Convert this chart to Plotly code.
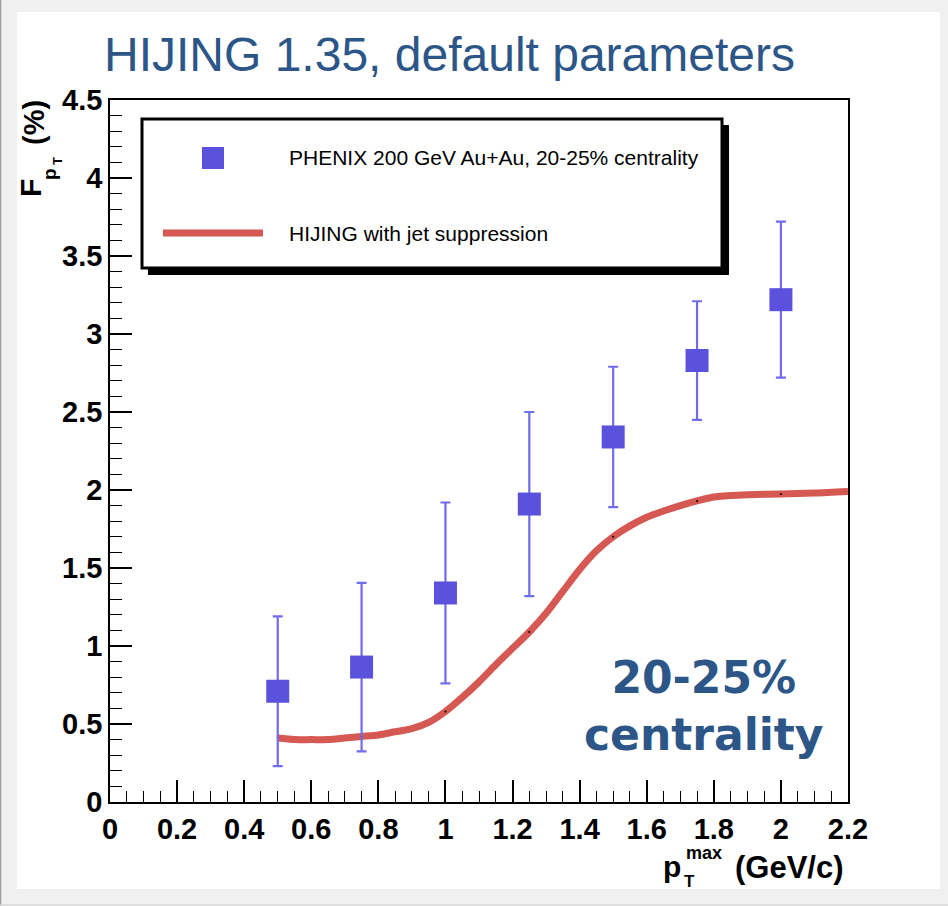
import plotly.graph_objects as go

# ---------------- data ----------------
data_x = [0.5, 0.75, 1.0, 1.25, 1.5, 1.75, 2.0]
data_y = [0.71, 0.865, 1.34, 1.91, 2.34, 2.83, 3.22]
data_err = [0.48, 0.54, 0.58, 0.59, 0.45, 0.38, 0.50]

curve_x = [0.5, 0.55, 0.6, 0.65, 0.7, 0.75, 0.8, 0.85, 0.9, 0.95, 1.0, 1.05, 1.1, 1.15,
           1.2, 1.25, 1.3, 1.35, 1.4, 1.45, 1.5, 1.55, 1.6, 1.65, 1.7, 1.75, 1.8, 1.85,
           1.9, 2.0, 2.1, 2.2]
curve_y = [0.41, 0.40, 0.40, 0.40, 0.41, 0.42, 0.43, 0.45, 0.47, 0.51, 0.58, 0.67, 0.77, 0.88,
           0.985, 1.09, 1.21, 1.35, 1.49, 1.61, 1.70, 1.77, 1.825, 1.865, 1.90, 1.93, 1.955, 1.965,
           1.97, 1.975, 1.98, 1.99]
dot_x = [0.5, 0.75, 1.0, 1.25, 1.5, 1.75, 2.0]

x_ticks = [0, 0.2, 0.4, 0.6, 0.8, 1, 1.2, 1.4, 1.6, 1.8, 2, 2.2]
y_ticks = [0, 0.5, 1, 1.5, 2, 2.5, 3, 3.5, 4, 4.5]

title_text = "HIJING 1.35, default parameters"
label_data = "PHENIX 200 GeV Au+Au, 20-25% centrality"
label_model = "HIJING with jet suppression"

# ---------------- layout geometry ----------------
W, H = 948, 906
L, R, T, B = 110, 848, 100, 802  # plot area in pixels


def px(x):
    return (x - L) / (R - L)


def py(y):
    return (B - y) / (B - T)


BLUE = "rgb(90,82,220)"
ERR = "rgb(112,108,236)"
RED = "rgb(214,88,82)"
TXT = "#2c5687"

fig = go.Figure()

fig.add_trace(go.Scatter(
    x=curve_x, y=curve_y, mode="lines",
    line=dict(color=RED, width=7, shape="spline", smoothing=0.8),
    showlegend=False, hoverinfo="skip"))

dot_y = [curve_y[curve_x.index(v)] for v in dot_x]
fig.add_trace(go.Scatter(
    x=dot_x, y=dot_y, mode="markers",
    marker=dict(color="black", size=2),
    showlegend=False, hoverinfo="skip"))

fig.add_trace(go.Scatter(
    x=data_x, y=data_y, mode="markers",
    marker=dict(symbol="square", size=23, color=BLUE, line=dict(width=0)),
    error_y=dict(type="data", array=data_err, visible=True, color=ERR, thickness=2.2, width=5),
    showlegend=False))

shapes = []
# outer white panel
shapes.append(dict(type="rect", xref="paper", yref="paper",
                   x0=px(17), x1=px(940), y0=py(889), y1=py(12),
                   fillcolor="white", line=dict(width=0), layer="below"))
# left dark edge & bottom line
shapes.append(dict(type="line", xref="paper", yref="paper",
                   x0=px(0.5), x1=px(0.5), y0=py(906), y1=py(0),
                   line=dict(color="#9a9a9a", width=1.5), layer="below"))
shapes.append(dict(type="line", xref="paper", yref="paper",
                   x0=px(0), x1=px(948), y0=py(905), y1=py(905),
                   line=dict(color="#d8d8d8", width=1.5), layer="below"))
# legend shadow and box
shapes.append(dict(type="rect", xref="paper", yref="paper",
                   x0=px(148), x1=px(729), y0=py(275), y1=py(125),
                   fillcolor="black", line=dict(width=0), layer="above"))
shapes.append(dict(type="rect", xref="paper", yref="paper",
                   x0=px(142), x1=px(722), y0=py(268), y1=py(119),
                   fillcolor="white", line=dict(color="black", width=3), layer="above"))
# legend samples
shapes.append(dict(type="rect", xref="paper", yref="paper",
                   x0=px(202), x1=px(224), y0=py(169), y1=py(147),
                   fillcolor=BLUE, line=dict(width=0), layer="above"))
shapes.append(dict(type="line", xref="paper", yref="paper",
                   x0=px(163), x1=px(263), y0=py(233), y1=py(233),
                   line=dict(color=RED, width=7), layer="above"))

annotations = []


def ann(text, x, y, size, color="black", family="Liberation Sans, Arial", weight="normal",
        xanchor="center", yanchor="middle", angle=0):
    annotations.append(dict(text=text, xref="paper", yref="paper", x=px(x), y=py(y),
                            xanchor=xanchor, yanchor=yanchor, showarrow=False,
                            textangle=angle,
                            font=dict(size=size, color=color, family=family, weight=weight)))


ann(title_text, 449, 54, 48, color=TXT)
ann("20-25%<br>centrality", 704, 706, 44, color=TXT, family="DejaVu Sans", weight="bold")
ann(label_data, 287, 158, 21, xanchor="left")
ann(label_model, 287, 233, 21, xanchor="left")

# x-axis title pieces
ann("p", 672, 866, 30, weight="bold")
ann("T", 689, 881, 17, weight="bold")
ann("max", 704, 853, 18, weight="bold")
ann("(GeV/c)", 789, 867, 31, weight="bold")

# y-axis title pieces (rotated)
ann("F", 30, 188, 30, weight="bold", angle=-90)
ann("p", 49, 174, 19, weight="bold", angle=-90)
ann("T", 58, 161, 13, weight="bold", angle=-90)
ann("(%)", 34, 123, 29, weight="bold", angle=-90)

axis_common = dict(showline=True, linecolor="black", linewidth=1.5, mirror=True,
                   ticks="inside", tickcolor="black", tickwidth=1.5, ticklen=22,
                   showgrid=False, zeroline=False,
                   tickfont=dict(family="Liberation Sans, Arial", size=29, color="black", weight="bold"))

fig.update_layout(
    width=W, height=H,
    margin=dict(l=L, r=W - R, t=T, b=H - B, pad=0),
    paper_bgcolor="#f0f0f0", plot_bgcolor="white",
    shapes=shapes, annotations=annotations, showlegend=False,
    xaxis=dict(range=[0, 2.2], tickvals=x_ticks, ticktext=[f"{v:g}" for v in x_ticks],
               minor=dict(ticks="inside", ticklen=11, dtick=0.05, tickcolor="black", tickwidth=1.2),
               **axis_common),
    yaxis=dict(range=[0, 4.5], tickvals=y_ticks, ticktext=[f"{v:g}" for v in y_ticks],
               minor=dict(ticks="inside", ticklen=12, dtick=0.1, tickcolor="black", tickwidth=1.2),
               **axis_common),
)

fig.write_html("out.html")
